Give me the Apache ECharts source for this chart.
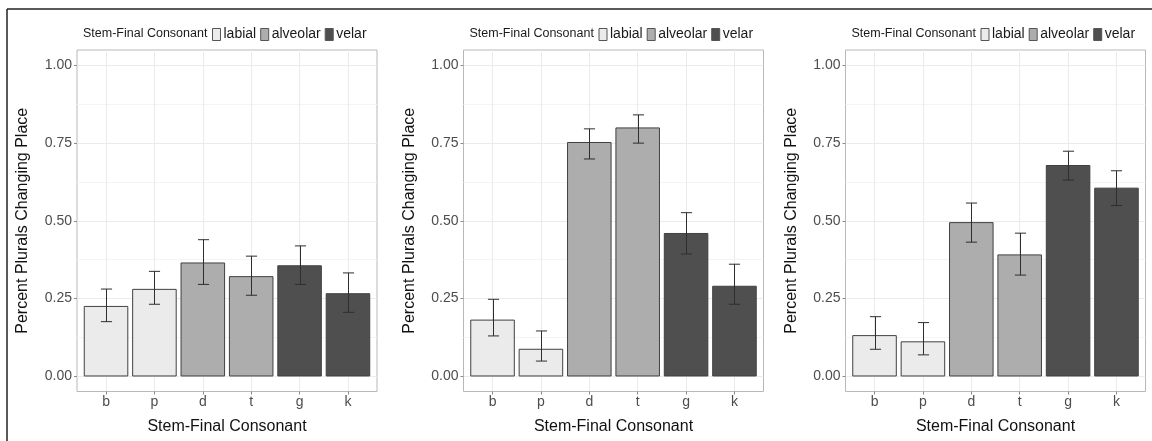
<!DOCTYPE html>
<html>
<head>
<meta charset="utf-8">
<script src="https://cdn.jsdelivr.net/npm/echarts@6/dist/echarts.min.js"></script>
<style>
  html, body { margin: 0; padding: 0; background: #ffffff; }
  #chart { width: 1152px; height: 441px; }
</style>
</head>
<body>
<div id="chart"></div>
<script>
// Stem-final consonants on the x axis and their place of articulation
const consonants = ['b', 'p', 'd', 't', 'g', 'k'];
const consonantPlace = ['labial', 'labial', 'alveolar', 'alveolar', 'velar', 'velar'];
const placeNames = ['labial', 'alveolar', 'velar'];
const yTickValues = [0, 0.25, 0.5, 0.75, 1];
const yMinorValues = [0.125, 0.375, 0.625, 0.875];

// Proportion of plurals changing place, with lower / upper error-bar bounds
const panel1Mean  = [0.224, 0.279, 0.364, 0.320, 0.355, 0.265];
const panel1Lower = [0.175, 0.231, 0.295, 0.260, 0.295, 0.205];
const panel1Upper = [0.280, 0.337, 0.439, 0.386, 0.419, 0.332];

const panel2Mean  = [0.180, 0.086, 0.752, 0.799, 0.459, 0.289];
const panel2Lower = [0.129, 0.048, 0.699, 0.750, 0.393, 0.231];
const panel2Upper = [0.247, 0.145, 0.796, 0.841, 0.526, 0.360];

const panel3Mean  = [0.130, 0.110, 0.494, 0.390, 0.678, 0.605];
const panel3Lower = [0.086, 0.068, 0.431, 0.325, 0.631, 0.549];
const panel3Upper = [0.191, 0.172, 0.557, 0.460, 0.724, 0.661];

const panels = [
  { mean: panel1Mean, lower: panel1Lower, upper: panel1Upper },
  { mean: panel2Mean, lower: panel2Lower, upper: panel2Upper },
  { mean: panel3Mean, lower: panel3Lower, upper: panel3Upper }
];

// fill colours for each place of articulation
const placeFill = { labial: '#ebebeb', alveolar: '#adadad', velar: '#4f4f4f' };
const barStroke = '#404040';
const FONT = 'Liberation Sans';

const panelLeft = [77, 463.5, 845.5];
const panelWidth = 300;
const panelTop = 50;
const panelBottom = 49.5;

const chart = echarts.init(document.getElementById('chart'), null, { renderer: 'canvas' });

// bar plus error bar, positioned through the panel's own axes
function renderBar(params, api) {
  const x = api.value(0);
  const v = api.value(1);
  const lo = api.value(2);
  const hi = api.value(3);
  const tl = api.coord([x - 0.45, v]);
  const br = api.coord([x + 0.45, 0]);
  const cx = Math.round(api.coord([x, 0])[0]) + 0.5;
  const yHi = api.coord([x, hi])[1];
  const yLo = api.coord([x, lo])[1];
  const halfCap = api.size([0.23, 0])[0] / 2;
  const errStyle = { stroke: '#2e2e2e', lineWidth: 1 };
  return {
    type: 'group',
    children: [
      {
        type: 'rect',
        shape: { x: tl[0], y: tl[1], width: br[0] - tl[0], height: br[1] - tl[1] },
        style: { fill: api.visual('color'), stroke: barStroke, lineWidth: 1 }
      },
      { type: 'line', shape: { x1: cx, y1: yHi, x2: cx, y2: yLo }, style: errStyle },
      { type: 'line', shape: { x1: cx - halfCap, y1: yHi, x2: cx + halfCap, y2: yHi }, style: errStyle },
      { type: 'line', shape: { x1: cx - halfCap, y1: yLo, x2: cx + halfCap, y2: yLo }, style: errStyle }
    ]
  };
}

const grids = [];
const xAxes = [];
const yAxes = [];
const series = [];
const legends = [];
const graphics = [];

panels.forEach((panel, p) => {
  grids.push({
    left: panelLeft[p],
    width: panelWidth,
    top: panelTop,
    bottom: panelBottom,
    show: true,
    borderColor: '#b8b8b8',
    borderWidth: 1,
    backgroundColor: 'transparent'
  });

  xAxes.push({
    gridIndex: p,
    type: 'value',
    position: 'bottom',
    min: -0.6,
    max: 5.6,
    axisLine: { show: false, onZero: false },
    axisTick: { show: true, customValues: [0, 1, 2, 3, 4, 5], length: 3, lineStyle: { color: '#8a8a8a' } },
    axisLabel: {
      customValues: [0, 1, 2, 3, 4, 5],
      formatter: (v) => consonants[Math.round(v)],
      color: '#4d4d4d',
      fontFamily: FONT,
      fontSize: 14,
      margin: 4
    },
    splitLine: { show: true, lineStyle: { color: '#ebebeb', width: 1 } },
    name: 'Stem-Final Consonant',
    nameLocation: 'middle',
    nameGap: 27,
    nameTextStyle: { color: '#111111', fontFamily: FONT, fontSize: 16 }
  });

  // major y axis
  yAxes.push({
    gridIndex: p,
    type: 'value',
    position: 'left',
    min: -0.05,
    max: 1.05,
    axisLine: { show: false, onZero: false },
    axisTick: { show: true, customValues: yTickValues, length: 3, lineStyle: { color: '#8a8a8a' } },
    axisLabel: {
      customValues: yTickValues,
      formatter: (v) => v.toFixed(2),
      color: '#4d4d4d',
      fontFamily: FONT,
      fontSize: 14,
      margin: 5
    },
    splitLine: { show: true, lineStyle: { color: '#ebebeb', width: 1 } },
    name: 'Percent Plurals Changing Place',
    nameLocation: 'middle',
    nameGap: 46,
    nameTextStyle: { color: '#111111', fontFamily: FONT, fontSize: 16 }
  });
  // minor horizontal grid lines
  yAxes.push({
    gridIndex: p,
    type: 'value',
    position: 'left',
    min: -0.05,
    max: 1.05,
    axisLine: { show: false, onZero: false },
    axisTick: { show: false, customValues: yMinorValues },
    axisLabel: { show: false, customValues: yMinorValues },
    splitLine: { show: true, lineStyle: { color: '#f4f4f4', width: 1 } }
  });

  placeNames.forEach((place) => {
    const data = [];
    consonants.forEach((c, i) => {
      if (consonantPlace[i] === place) {
        data.push([i, panel.mean[i], panel.lower[i], panel.upper[i]]);
      }
    });
    series.push({
      name: place,
      type: 'custom',
      xAxisIndex: p,
      yAxisIndex: p * 2,
      itemStyle: { color: placeFill[place], borderColor: barStroke, borderWidth: 1 },
      encode: { x: 0, y: 1 },
      renderItem: renderBar,
      data: data,
      z: 3
    });
  });

  legends.push({
    left: panelLeft[p] + 135,
    top: 27.5,
    padding: 0,
    orient: 'horizontal',
    icon: 'rect',
    itemWidth: 8,
    itemHeight: 12,
    itemGap: 4,
    selectedMode: false,
    textStyle: { color: '#1a1a1a', fontFamily: FONT, fontSize: 14, padding: [0, 0, 0, -2] },
    data: placeNames.map((place) => ({
      name: place,
      itemStyle: { color: placeFill[place], borderColor: '#555555', borderWidth: 1 }
    }))
  });

  graphics.push({
    type: 'text',
    x: panelLeft[p] + 6,
    y: 33.5,
    style: {
      text: 'Stem-Final Consonant',
      fill: '#1a1a1a',
      font: '12.5px "' + FONT + '"',
      verticalAlign: 'middle',
      align: 'left'
    }
  });
});

// figure frame
graphics.push({
  type: 'line',
  shape: { x1: 7, y1: 9, x2: 1152, y2: 9 },
  style: { stroke: '#222222', lineWidth: 1.5 }
});
graphics.push({
  type: 'line',
  shape: { x1: 7, y1: 9, x2: 7, y2: 441 },
  style: { stroke: '#222222', lineWidth: 1.5 }
});

chart.setOption({
  animation: false,
  backgroundColor: '#ffffff',
  grid: grids,
  xAxis: xAxes,
  yAxis: yAxes,
  legend: legends,
  series: series,
  graphic: graphics
});
</script>
</body>
</html>
